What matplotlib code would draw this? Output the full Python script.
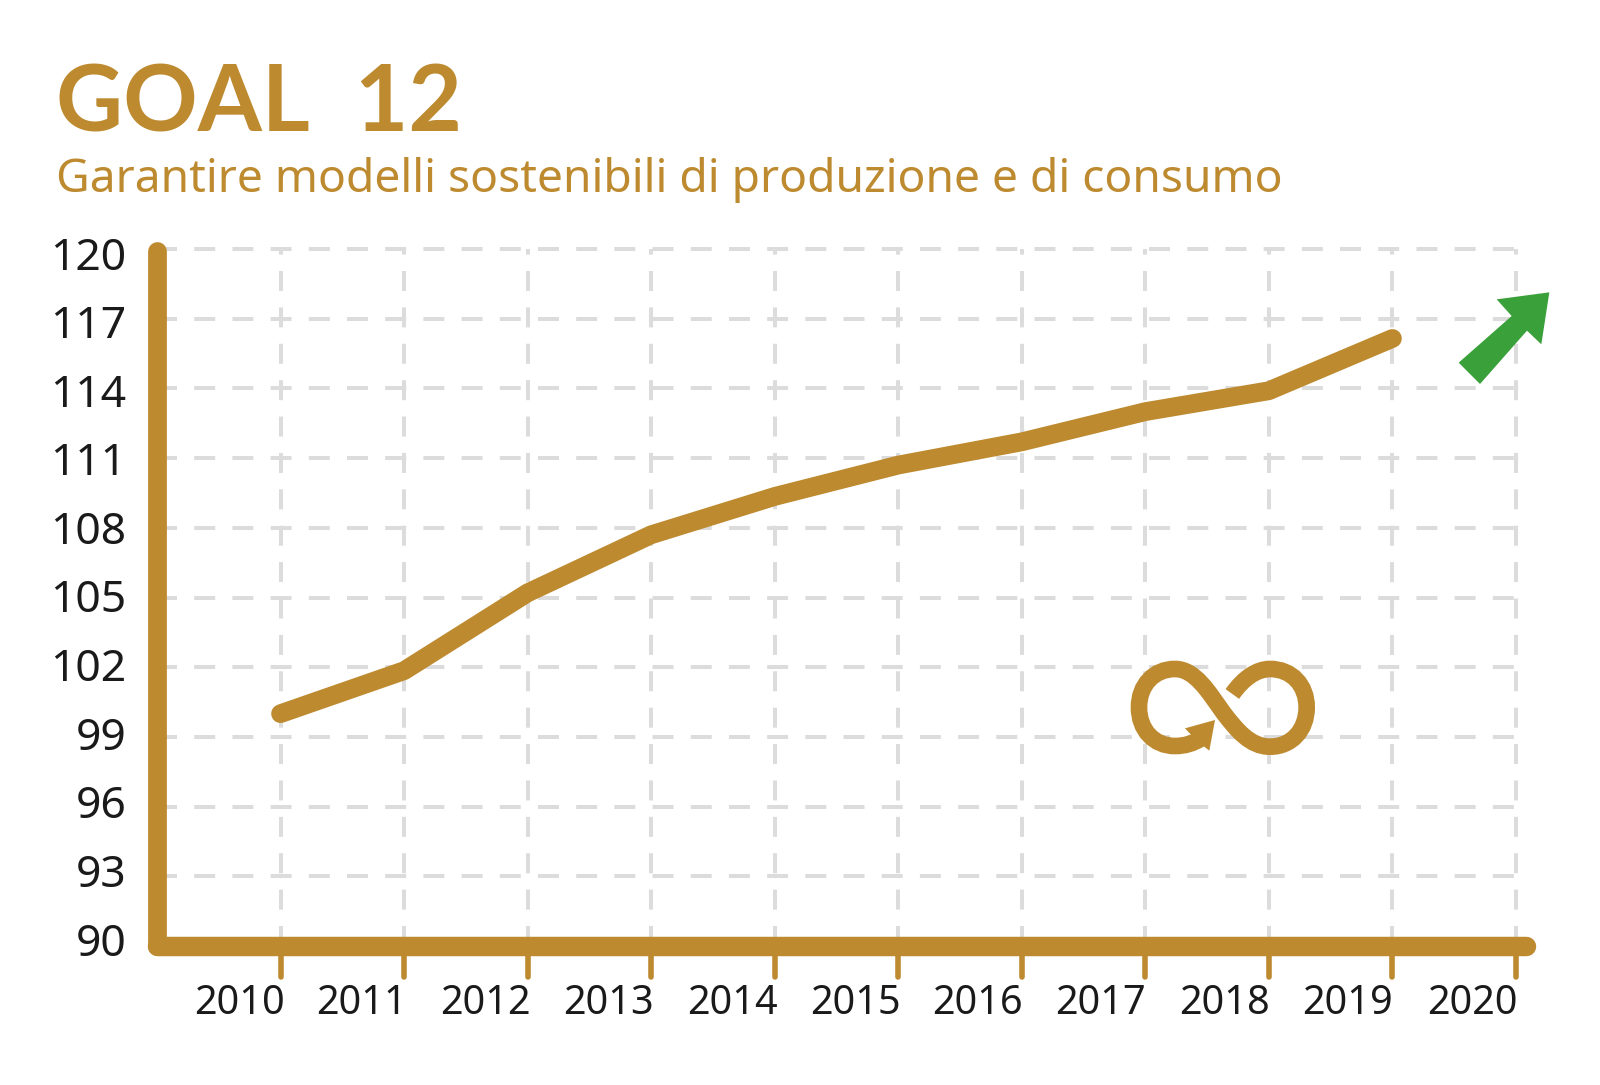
import matplotlib
matplotlib.use("Agg")
import matplotlib.pyplot as plt
from matplotlib.markers import MarkerStyle, TICKDOWN
from matplotlib.patches import PathPatch, Polygon
from matplotlib.path import Path
from matplotlib.transforms import Affine2D, ScaledTranslation

years = [2010, 2011, 2012, 2013, 2014, 2015, 2016, 2017, 2018, 2019]
values = [100.0, 101.85, 105.2, 107.7, 109.35, 110.7, 111.7, 113.0, 113.9, 116.15]
x_ticks = [2010, 2011, 2012, 2013, 2014, 2015, 2016, 2017, 2018, 2019, 2020]
y_ticks = [90, 93, 96, 99, 102, 105, 108, 111, 114, 117, 120]

GOLD = "#bd8a2f"
GREEN = "#3aa03a"
GRID = "#dcdcdc"
INK = "#1a1a1a"
FONT = "Noto Sans"

W, H = 1600, 1085
fig = plt.figure(figsize=(16, 10.85), dpi=100, facecolor="white")

# axes box in pixels: 2009 at x=157, 2020 at x=1516, 90 at y=946, 120 at y=249
ax = fig.add_axes([157 / W, (H - 946) / H, (1516 - 157) / W, (946 - 249) / H])
ax.set_xlim(2009, 2020)
ax.set_ylim(90, 120)

ax.set_axisbelow(True)
ax.set_xticks(x_ticks)
ax.set_yticks(y_ticks)
ax.set_xticklabels([str(y) for y in x_ticks], fontsize=28.5, color=INK, family=FONT, ha="right")
ax.set_yticklabels([str(y) for y in y_ticks], fontsize=32, color=INK, family=FONT)

# dash patterns are in units of linewidth
lw = 2.9
ax.xaxis.grid(True, color=GRID, linewidth=lw, linestyle=(0, (14.4 / lw, 11.8 / lw)))
ax.yaxis.grid(True, color=GRID, linewidth=lw, linestyle=(0.7 / lw, (15.1 / lw, 12.4 / lw)))
for t in ax.xaxis.get_major_ticks() + ax.yaxis.get_major_ticks():
    t.gridline.set_clip_on(False)

ax.tick_params(axis="x", length=22, width=4, color=GOLD, pad=5.5)
ax.tick_params(axis="y", length=0, pad=22)
for t in ax.xaxis.get_major_ticks():
    t.tick1line.set_marker(MarkerStyle(TICKDOWN, capstyle="round"))

# the value labels sit on a slightly tighter spacing than the grid
for v, lab in zip(y_ticks, ax.get_yticklabels()):
    dy = 7 - (v - 90) / 30 * 11
    lab.set_transform(lab.get_transform() + ScaledTranslation(0, dy / 100, fig.dpi_scale_trans))

# same for the year labels, they drift a little from their ticks
year_nudge = [4, 3, 3, 3, 3, 2, 1, 1, 1, 0, 2]
for dx, lab in zip(year_nudge, ax.get_xticklabels()):
    lab.set_transform(lab.get_transform() + ScaledTranslation(dx / 100, 0, fig.dpi_scale_trans))

for s in ["top", "right"]:
    ax.spines[s].set_visible(False)
ax.spines["left"].set_linewidth(13.5)
ax.spines["left"].set_color(GOLD)
ax.spines["left"].set_capstyle("round")
ax.spines["left"].set_bounds(90, 119.9)
ax.spines["bottom"].set_linewidth(14)
ax.spines["bottom"].set_color(GOLD)
ax.spines["bottom"].set_capstyle("round")
ax.spines["bottom"].set_bounds(2009, 2020.08)

ax.plot(years, values, color=GOLD, linewidth=13.5, solid_capstyle="round",
        solid_joinstyle="round", clip_on=False, zorder=3)

fig.text(56.5 / W, (H - 132) / H, "GOAL  12", color=GOLD, fontsize=66.5, fontweight="bold",
         family="Lato", ha="left", va="baseline")
fig.text(56 / W, (H - 192) / H, "Garantire modelli sostenibili di produzione e di consumo",
         color=GOLD, fontsize=33.3, family=FONT, ha="left", va="baseline")

# icons traced in zoomed pixel coordinates
def crop_transform(x0, y0):
    return Affine2D().scale(1 / 3).translate(x0, y0).scale(1, -1).translate(0, H)

inf_verts = [(457, 222),
             (490, 175), (530, 147), (570, 147),
             (635, 147), (680, 195), (680, 262),
             (680, 330), (635, 380), (570, 380),
             (510, 380), (470, 330), (430, 278),
             (385, 215), (345, 147), (285, 147),
             (222, 147), (177, 195), (177, 262),
             (177, 330), (222, 378), (285, 378),
             (315, 378), (340, 370), (362, 356)]
inf_codes = [Path.MOVETO] + [Path.CURVE4] * (len(inf_verts) - 1)
inf_tr = crop_transform(1080, 620)
fig.add_artist(PathPatch(Path(inf_verts, inf_codes), fill=False, edgecolor=GOLD, linewidth=12,
                         capstyle="butt", transform=inf_tr, zorder=4))
fig.add_artist(Polygon([(315, 325), (405, 300), (388, 392), (350, 362)], closed=True,
                       facecolor=GOLD, edgecolor="none", transform=inf_tr, zorder=4))

fig.add_artist(Polygon([(236, 428), (395, 288), (350, 238), (508, 217), (484, 373), (441, 332), (300, 492)],
                       closed=True, facecolor=GREEN, edgecolor="none",
                       transform=crop_transform(1380, 220), zorder=4))

fig.savefig("out.png", dpi=100, facecolor="white")
